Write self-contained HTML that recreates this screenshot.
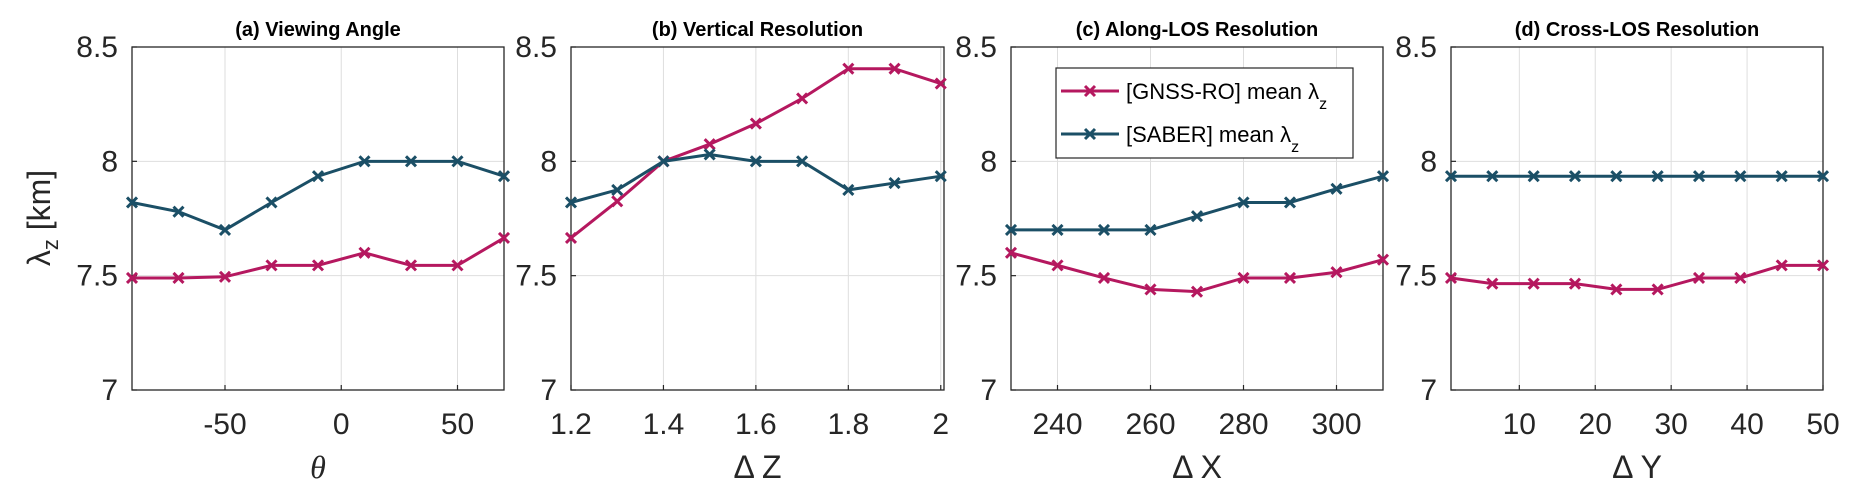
<!DOCTYPE html>
<html><head><meta charset="utf-8"><style>
body{margin:0;background:#fff;}
svg{display:block;font-family:"Liberation Sans",Arial,sans-serif;}
</style></head><body>
<svg id="fig" width="1860" height="500" xmlns="http://www.w3.org/2000/svg"></svg>
<script>
const aX=[-90,-70,-50,-30,-10,10,30,50,70];
const aGnss=[7.49,7.49,7.495,7.545,7.545,7.60,7.545,7.545,7.665];
const aSaber=[7.82,7.78,7.70,7.82,7.935,8.0,8.0,8.0,7.935];
const aTicks=[-50,0,50];
const bX=[1.2,1.3,1.4,1.5,1.6,1.7,1.8,1.9,2.0];
const bGnss=[7.665,7.825,8.0,8.075,8.165,8.275,8.405,8.405,8.34];
const bSaber=[7.82,7.875,8.0,8.03,8.0,8.0,7.875,7.905,7.935];
const bTicks=[1.2,1.4,1.6,1.8,2];
const cX=[230,240,250,260,270,280,290,300,310];
const cGnss=[7.60,7.545,7.49,7.44,7.43,7.49,7.49,7.515,7.57];
const cSaber=[7.70,7.70,7.70,7.70,7.76,7.82,7.82,7.88,7.935];
const cTicks=[240,260,280,300];
const dX=[1,6.44,11.89,17.33,22.78,28.22,33.67,39.11,44.56,50];
const dGnss=[7.49,7.465,7.465,7.465,7.44,7.44,7.49,7.49,7.545,7.545];
const dSaber=[7.935,7.935,7.935,7.935,7.935,7.935,7.935,7.935,7.935,7.935];
const dTicks=[10,20,30,40,50];
const yTicks=[7,7.5,8,8.5];
const yTickLabels=["7","7.5","8","8.5"];

const NS="http://www.w3.org/2000/svg";
const svg=document.getElementById('fig');
const GN="#b5185f", SB="#1b4f66";
function el(t,a,p){const e=document.createElementNS(NS,t);for(const k in a)e.setAttribute(k,a[k]);(p||svg).appendChild(e);return e;}
const top_=47,bot=390,yMin=7,yMax=8.5;
function Y(v){return bot-(v-yMin)/(yMax-yMin)*(bot-top_);}
function marker(g,x,y,c,name){
  const m=el('path',{d:`M${x-5},${y-5}L${x+5},${y+5}M${x-5},${y+5}L${x+5},${y-5}`,stroke:c,'stroke-width':3,fill:'none'},g);
  
  
}
function panel(id,L,R,xmin,xmax,xs,gn,sb,ticks,title,xlab){
  const g=el('g',{});
  
  
  const X=v=>L+(v-xmin)/(xmax-xmin)*(R-L);
  el('rect',{x:L,y:top_,width:R-L,height:bot-top_,fill:'#fff'},g);
  yTicks.forEach((t,i)=>{
    const y=Y(t);
    if(t>yMin&&t<yMax) el('line',{x1:L,x2:R,y1:y,y2:y,stroke:'#dedede','stroke-width':1},g);
    el('line',{x1:L,x2:L+5,y1:y,y2:y,stroke:'#262626','stroke-width':1.2},g);
    const tl=el('text',{x:L-14,y:y+10,'text-anchor':'end','font-size':30,fill:'#262626'},g);
    tl.textContent=yTickLabels[i];
    
    
  });
  ticks.forEach(t=>{
    const x=X(t);
    el('line',{x1:x,x2:x,y1:top_,y2:bot,stroke:'#dedede','stroke-width':1},g);
    el('line',{x1:x,x2:x,y1:bot,y2:bot-5,stroke:'#262626','stroke-width':1.2},g);
    const tl=el('text',{x:x,y:bot+44,'text-anchor':'middle','font-size':30,fill:'#262626'},g);
    tl.textContent=String(t);
    
    
  });
  el('rect',{x:L,y:top_,width:R-L,height:bot-top_,fill:'none',stroke:'#262626','stroke-width':1.3},g);
  [[gn,GN,'gnss'],[sb,SB,'saber']].forEach(([vals,c,n])=>{
    const pts=xs.map((x,i)=>X(x)+','+Y(vals[i])).join(' ');
    const pl=el('polyline',{points:pts,fill:'none',stroke:c,'stroke-width':3},g);
    
    
    xs.forEach((x,i)=>marker(g,X(x),Y(vals[i]),c,n+'-marker'));
  });
  const tt=el('text',{x:(L+R)/2,y:36,'text-anchor':'middle','font-size':20,'font-weight':'bold',fill:'#000'},g);
  tt.textContent=title;
  
  
  const xl=el('text',{x:(L+R)/2,y:478,'text-anchor':'middle','font-size':32,fill:'#262626'},g);
  xl.textContent=xlab;
  if(xlab==='θ'){xl.setAttribute('font-family','Liberation Serif, serif');xl.setAttribute('font-style','italic');}
  
  
}
panel('a',132,504,-90,70,aX,aGnss,aSaber,aTicks,'(a) Viewing Angle','θ');
panel('b',571,944,1.2,2.007,bX,bGnss,bSaber,bTicks,'(b) Vertical Resolution','Δ Z');
panel('c',1011,1383,230,310,cX,cGnss,cSaber,cTicks,'(c) Along-LOS Resolution','Δ X');
panel('d',1451,1823,1,50,dX,dGnss,dSaber,dTicks,'(d) Cross-LOS Resolution','Δ Y');

// y axis title
const yt=el('text',{transform:'translate(50,218) rotate(-90)','text-anchor':'middle','font-size':32,fill:'#262626'});
yt.innerHTML='λ<tspan font-size="22" dy="8">z</tspan><tspan dy="-8"> [km]</tspan>';



// legend
const lg=el('g',{});


el('rect',{x:1056,y:68,width:297,height:90,fill:'#fff',stroke:'#262626','stroke-width':1.2},lg);
[[GN,'[GNSS-RO] mean λ',91,'legend-entry-gnss'],[SB,'[SABER] mean λ',134,'legend-entry-saber']].forEach(([c,txt,y,n])=>{
  const e=el('g',{},lg);
  
  
  el('line',{x1:1061,x2:1119,y1:y,y2:y,stroke:c,'stroke-width':3},e);
  marker(e,1090,y,c,'legend-marker');
  const t=el('text',{x:1126,y:y+8,'font-size':22,fill:'#000'},e);
  t.innerHTML=txt+'<tspan font-size="16" dy="10">z</tspan>';
});
</script>
</body></html>
